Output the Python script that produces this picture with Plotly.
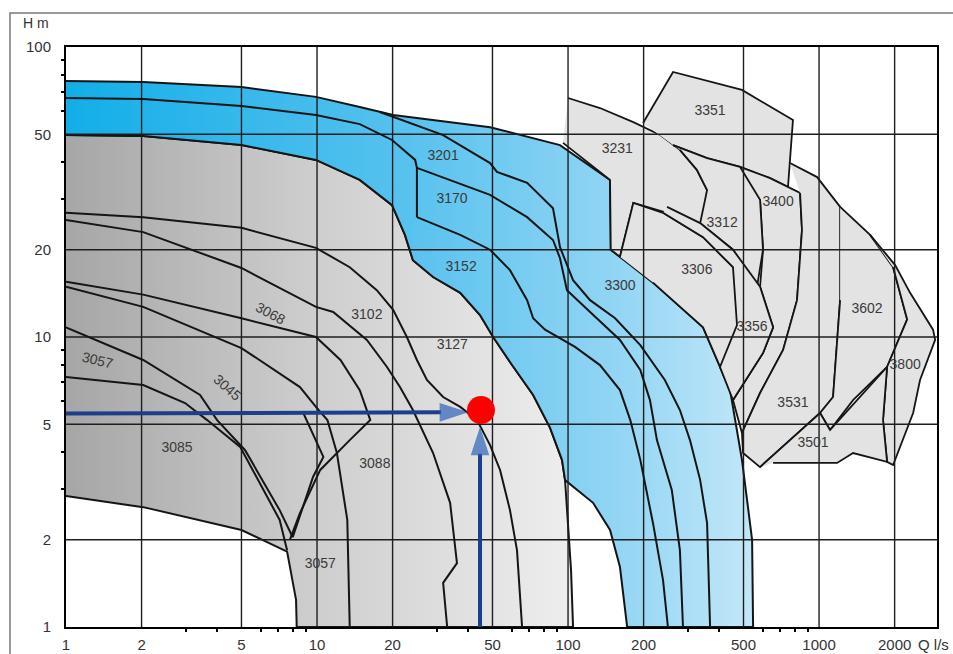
import numpy as np
import plotly.graph_objects as go

# ---------------- axes ----------------
x_ticks = [1, 2, 5, 10, 20, 50, 100, 200, 500, 1000, 2000]
y_ticks = [1, 2, 5, 10, 20, 50, 100]
minor_x = [3, 4, 6, 7, 8, 9, 30, 40, 60, 70, 80, 90, 300, 400, 600, 700, 800, 900]
minor_y = [3, 4, 6, 7, 8, 9, 30, 40, 60, 70, 80, 90]
q_max = 2950

# ---------------- grey / blue envelopes ----------------
edge_q = [1.0, 2.03, 5.0, 9.9, 14.8, 19.9, 22.4, 24.1, 29.0, 37.2, 44.6, 50.3, 58.7, 72.6, 84.8, 94.6, 97.3]
edge_h = [49.7, 49.3, 45.9, 40.8, 34.8, 28.5, 22.5, 18.4, 16.1, 14.2, 11.9, 10.0, 8.2, 6.31, 4.86, 3.77, 3.21]

grey_rest_q = [100, 102.8, 104.7, 8.3, 8.25, 8.0, 7.6, 5.0, 2.03, 1.0]
grey_rest_h = [2.34, 1.57, 1.0, 1.0, 1.24, 1.45, 1.82, 2.16, 2.59, 2.83]

blue_q = [1.0, 2.03, 5.0, 9.9, 14.8, 20.1, 48.9, 92.9, 147, 148, 218, 345, 442, 493, 541, 546, 172, 161, 147, 125.8]
blue_h = [76.4, 75.7, 72.8, 67.3, 62.1, 58.3, 52.9, 45.9, 34.8, 20.0, 15.4, 10.8, 6.56, 3.77, 2.0, 1.0, 1.0, 1.61, 2.16, 2.68]

# ---------------- right-hand pump regions ----------------
regions = {
    "3231": ([100, 134, 182, 233, 279, 326, 358, 345, 248, 182, 161, 148, 147, 95.5],
             [66.7, 61.6, 55.1, 49.7, 44.2, 37.7, 32.1, 23.8, 26.8, 29.0, 18.9, 20.0, 34.8, 46.7]),
    "3351": ([199, 262, 493, 787, 752, 638, 484, 358, 262],
             [54.7, 82, 71.1, 56, 32.9, 35.3, 38.6, 41.4, 45.9]),
    "3400": ([484, 638, 840, 855, 817, 719, 582, 493, 454, 598, 656, 582, 598, 582],
             [38.6, 35.3, 31.4, 23.4, 13.4, 9.02, 6.41, 4.67, 6.06, 8.81, 10.8, 14.9, 20.0, 29.7]),
    "3312": ([262, 358, 484, 582, 598, 566, 454, 336, 358, 326, 279],
             [45.9, 41.4, 38.6, 29.7, 20.0, 14.9, 20.0, 24.7, 32.1, 37.7, 44.2]),
    "3306": ([161, 182, 239, 345, 454, 566, 656, 598, 454, 442, 345, 218],
             [18.9, 29.0, 26.8, 22.1, 17.4, 13.7, 10.8, 8.81, 6.06, 6.56, 10.8, 15.4]),
    "3356": ([248, 336, 454, 582, 656, 598, 454, 403, 471, 454, 345, 239],
             [28.1, 24.7, 20.0, 14.9, 10.8, 8.81, 6.06, 7.88, 11.0, 17.4, 22.1, 26.8]),
    "3531": ([766, 982, 1213, 1213, 1137, 1009, 766, 582, 498, 493, 582, 719, 817, 855, 840],
             [39.8, 35.6, 28.1, 13.4, 6.21, 5.47, 4.41, 3.56, 3.98, 4.67, 6.41, 9.02, 13.4, 23.4, 31.4]),
    "3602": ([1213, 1597, 1972, 2244, 1866, 1366, 1106, 1009, 1137, 1213],
             [28.1, 22.5, 17.4, 11.5, 7.88, 6.06, 4.78, 5.47, 6.21, 13.4]),
    "3800": ([1597, 2009, 2305, 2845, 2900, 2525, 2370, 2046, 1972, 1866, 1798, 1866, 2244, 1972],
             [22.5, 17.7, 14.2, 10.6, 9.77, 7.11, 5.47, 3.98, 3.62, 3.71, 5.17, 7.88, 11.5, 17.4]),
    "3501": ([582, 766, 1009, 1106, 1866, 1798, 1866, 1366, 1180, 656],
             [3.56, 4.41, 5.47, 4.78, 7.88, 5.17, 3.71, 3.98, 3.68, 3.68]),
}

# ---------------- pump curves (black lines) ----------------
curves = {
    "L1": ([1.0, 2.03, 5.0, 9.9, 13.5, 17.3, 20.1, 22.8, 25.0, 27.4, 31.8, 37.2, 43.4, 48.9, 53.6, 58.7, 62.6, 65.6],
           [26.8, 25.9, 23.8, 20.3, 17.4, 14.5, 12.4, 10.0, 8.33, 7.11, 6.21, 5.74, 5.17, 4.24, 3.48, 2.53, 1.84, 1.0]),
    "L2": ([1.0, 2.03, 5.0, 7.8, 9.9, 11.6, 15.8, 19.0, 21.4, 24.1, 29.0, 33.9, 36.1, 31.8, 33.0],
           [25.3, 23.0, 17.3, 14.2, 12.7, 12.2, 9.77, 7.88, 6.72, 5.6, 3.98, 2.68, 1.66, 1.42, 1.0]),
    "L3": ([1.0, 2.03, 5.0, 9.9, 12.4, 14.8, 16.3, 13.5, 10.3, 8.55, 7.8],
           [15.5, 14.0, 11.6, 10.0, 8.33, 6.56, 5.17, 4.41, 3.48, 2.47, 2.0]),
    "L4": ([1.0, 2.03, 5.0, 8.55, 9.9, 11.0, 12.0, 13.2, 13.5],
           [14.9, 12.7, 9.16, 6.72, 5.74, 5.17, 3.98, 2.34, 1.0]),
    "L5": ([1.0, 2.03, 3.42, 4.0, 5.17, 7.1, 8.0],
           [10.8, 8.33, 6.31, 5.17, 4.07, 2.53, 2.04]),
    "L6": ([1.0, 2.03, 2.98, 3.65, 4.94, 7.1, 7.6],
           [7.28, 6.83, 5.92, 5.17, 4.18, 2.34, 1.84]),
    "K": ([8.79, 10.6, 9.64, 8.0],
          [5.5, 3.86, 3.29, 2.04]),
    "Bmid": ([1.0, 2.03, 5.0, 9.9, 14.8, 19.9, 24.6, 25.0, 25.0],
             [66.7, 66.2, 62.6, 58.3, 54.2, 47.8, 40.8, 38.3, 25.9]),
    "Bb": ([25.0, 48.9, 68.7, 87.1, 92.9, 99, 122.4, 161, 194, 212, 226, 259, 279, 287],
           [38.3, 30.9, 25.9, 21.6, 18.7, 14.5, 12.2, 9.77, 7.7, 6.06, 4.41, 2.97, 1.84, 1.0]),
    "Ba": ([25.0, 37.2, 48.9, 58.7, 68.7, 72.6, 81, 106.6, 134, 161, 177, 194, 218, 239, 250],
           [25.9, 22.5, 20.0, 17.0, 13.4, 11.6, 10.6, 9.24, 8.0, 6.56, 5.17, 3.77, 2.28, 1.45, 1.0]),
    "Bc": ([17.8, 20.1, 31.8, 48.9, 52.1, 68.7, 87.1, 92.9, 104.7, 122.4, 154, 194, 243, 279, 306, 336, 358, 368],
           [59.7, 57.4, 49.7, 39.8, 37.1, 34.0, 27.8, 20.4, 15.7, 13.4, 11.6, 9.38, 7.11, 5.6, 4.41, 3.21, 2.28, 1.0]),
}

# ---------------- labels ----------------
label_text = ["3351", "3231", "3312", "3400", "3306", "3300", "3356", "3602", "3800", "3531", "3501",
              "3201", "3170", "3152", "3127", "3102", "3085", "3088", "3057"]
label_q = [368, 157, 411, 687, 326, 161, 541, 1553, 2203, 787, 946,
           31.8, 34.5, 37.5, 34.6, 15.8, 2.77, 17.0, 10.3]
label_h = [59.7, 44.2, 24.7, 29.0, 16.9, 14.9, 10.8, 12.4, 8.0, 5.92, 4.28,
           41.8, 29.7, 17.3, 9.38, 11.9, 4.14, 3.62, 1.64]

rot_text = ["3068", "3057", "3045"]
rot_q = [6.5, 1.33, 4.38]
rot_h = [12.1, 8.33, 6.72]
rot_angle = [28, 14, 42]

# operating point and guide arrows
duty_q = 45
duty_h = 5.6
arrow_h_q = [1.0, 40]
arrow_h_h = [5.45, 5.5]
arrow_v_q = [44.6, 44.6]
arrow_v_h = [1.0, 4.9]

LINE = "#151515"
FONT = "Liberation Sans, Arial, sans-serif"

fig = go.Figure()

# grey envelope
fig.add_trace(go.Scatter(
    x=edge_q + grey_rest_q, y=edge_h + grey_rest_h, mode="lines", fill="toself",
    fillgradient=dict(type="horizontal",
                      colorscale=[[0, "#a6a6a6"], [0.45, "#cbcbcb"], [1, "#eeeeee"]]),
    line=dict(color=LINE, width=2), hoverinfo="skip"))

# blue band
fig.add_trace(go.Scatter(
    x=blue_q + edge_q[::-1], y=blue_h + edge_h[::-1], mode="lines", fill="toself",
    fillgradient=dict(type="horizontal",
                      colorscale=[[0, "#12aee8"], [0.5, "#58c2ee"], [0.8, "#92d5f4"], [1, "#c2e7f8"]]),
    line=dict(color=LINE, width=2), hoverinfo="skip"))

# right regions
for name, (qq, hh) in regions.items():
    fig.add_trace(go.Scatter(x=qq, y=hh, mode="lines", fill="toself", fillcolor="#e3e3e3",
                             line=dict(color=LINE, width=1.8), hoverinfo="skip"))

# grid lines on top of fills
gx, gy = [], []
for t in x_ticks[1:]:
    gx += [t, t, None]
    gy += [y_ticks[0], y_ticks[-1], None]
for t in y_ticks[1:-1]:
    gx += [x_ticks[0], q_max, None]
    gy += [t, t, None]
fig.add_trace(go.Scatter(x=gx, y=gy, mode="lines", line=dict(color="#1e1e1e", width=1.4),
                         hoverinfo="skip"))

# curves
for name, (qq, hh) in curves.items():
    fig.add_trace(go.Scatter(x=qq, y=hh, mode="lines", line=dict(color=LINE, width=2),
                             hoverinfo="skip"))

# labels
fig.add_trace(go.Scatter(x=label_q, y=label_h, mode="text", text=label_text,
                         textfont=dict(family=FONT, size=14, color="#3a3a3a"), hoverinfo="skip"))
for t, q, h, a in zip(rot_text, rot_q, rot_h, rot_angle):
    fig.add_annotation(x=np.log10(q), y=np.log10(h), xref="x", yref="y", text=t, showarrow=False,
                       textangle=a, font=dict(family=FONT, size=14, color="#3a3a3a"))

# operating point
fig.add_trace(go.Scatter(x=[duty_q], y=[duty_h], mode="markers",
                         marker=dict(size=28, color="#ff0000"), hoverinfo="skip"))
for qq, hh in [(arrow_h_q, arrow_h_h), (arrow_v_q, arrow_v_h)]:
    fig.add_trace(go.Scatter(x=qq, y=hh, mode="lines+markers",
                             line=dict(color="#1b3f8b", width=4),
                             marker=dict(symbol="arrow", angleref="previous", size=[0, 30],
                                         color="#2d62b8", line=dict(width=0)),
                             hoverinfo="skip"))

axis_common = dict(type="log", showgrid=False, zeroline=False, showline=True, linecolor="#000",
                   linewidth=2, mirror=True, ticks="", automargin=False,
                   tickfont=dict(family=FONT, size=15, color="#333"))
fig.update_xaxes(**axis_common, range=[0, np.log10(q_max)], tickvals=x_ticks,
                 ticktext=[str(v) for v in x_ticks], ticklabelstandoff=3,
                 minor=dict(tickvals=minor_x, ticks="outside", ticklen=3, tickwidth=2, tickcolor="#000"))
fig.update_yaxes(**axis_common, range=[0, 2], tickvals=y_ticks,
                 ticktext=[str(v) for v in y_ticks], ticklabelstandoff=10,
                 minor=dict(tickvals=minor_y, ticks="outside", ticklen=3, tickwidth=2, tickcolor="#000"))

fig.add_annotation(xref="paper", yref="paper", x=-0.0345, y=1.0414, xanchor="center", yanchor="middle",
                   text="H m", showarrow=False, font=dict(family=FONT, size=14, color="#333"))
fig.add_annotation(xref="paper", yref="paper", x=0.976, y=-0.031, xanchor="left", yanchor="middle",
                   text="Q l/s", showarrow=False, font=dict(family=FONT, size=15, color="#333"))
fig.add_shape(type="rect", xref="paper", yref="paper", x0=-0.0643, x1=1.03, y0=-0.06, y1=1.0586,
              line=dict(color="#777", width=1.5), layer="below")

fig.update_layout(width=953, height=654, margin=dict(l=66, r=16, t=47, b=27, autoexpand=False),
                  plot_bgcolor="white", paper_bgcolor="white", showlegend=False)

fig.write_html("out.html", config={"displayModeBar": False},
               post_script="document.body.style.margin='0';document.body.style.overflow='hidden';")
